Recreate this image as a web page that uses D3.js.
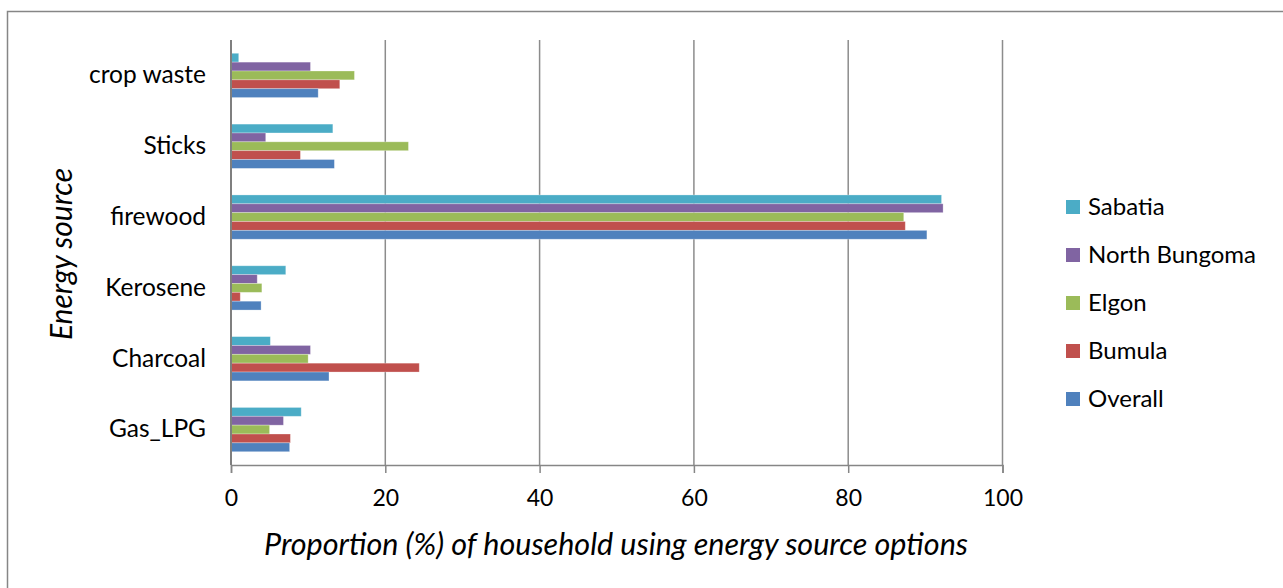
<!DOCTYPE html>
<html>
<head>
<meta charset="utf-8">
<script src="https://cdn.jsdelivr.net/npm/d3@7"></script>
<style>
  html, body { margin: 0; padding: 0; background: #fff; }
  svg { display: block; font-family: Lato, "Open Sans", sans-serif; }
</style>
</head>
<body>
<svg id="chart" width="1283" height="588"></svg>
<script>
// Energy sources, listed top to bottom
const categories = ["crop waste", "Sticks", "firewood", "Kerosene", "Charcoal", "Gas_LPG"];
// Series, listed in the order bars are stacked within each group (top to bottom)
const seriesNames = ["Sabatia", "North Bungoma", "Elgon", "Bumula", "Overall"];
const seriesColors = ["#4BACC6", "#8064A2", "#9BBB59", "#C0504D", "#4F81BD"];

// Proportion (%) of households per energy source, one array per series
const sabatia      = [1.0, 13.2, 92.1, 7.1, 5.1, 9.1];
const northBungoma = [10.3, 4.5, 92.3, 3.4, 10.3, 6.8];
const elgon        = [16.0, 23.0, 87.2, 4.0, 10.0, 5.0];
const bumula       = [14.1, 9.0, 87.4, 1.2, 24.4, 7.7];
const overall      = [11.3, 13.4, 90.2, 3.9, 12.7, 7.6];
const seriesValues = [sabatia, northBungoma, elgon, bumula, overall];

const xTicks = [0, 20, 40, 60, 80, 100];

const svg = d3.select("#chart");

// Outer chart frame
svg.append("rect")
  .attr("x", 7.5).attr("y", 11.5)
  .attr("width", 1280).attr("height", 600)
  .attr("fill", "none").attr("stroke", "#868686").attr("stroke-width", 1.5);

const plot = { left: 231, right: 1002.5, top: 40, bottom: 465 };

const x = d3.scaleLinear().domain([0, 100]).range([plot.left, plot.right]);
const y = d3.scaleBand().domain(categories)
  .range([plot.top, plot.bottom])
  .paddingInner(0.375).paddingOuter(0.1875);
const ySub = d3.scaleBand().domain(seriesNames).range([0, y.bandwidth()]).padding(0);

// Vertical gridlines
svg.append("g").selectAll("line")
  .data(xTicks.filter(d => d > 0))
  .join("line")
  .attr("x1", d => x(d)).attr("x2", d => x(d))
  .attr("y1", plot.top).attr("y2", plot.bottom)
  .attr("stroke", "#8c8c8c").attr("stroke-width", 1.5);

// Bars
const rows = [];
categories.forEach((c, i) => {
  seriesNames.forEach((s, j) => {
    rows.push({ cat: c, series: s, value: seriesValues[j][i], color: seriesColors[j] });
  });
});

svg.append("g").selectAll("rect")
  .data(rows)
  .join("rect")
  .attr("x", x(0))
  .attr("y", d => y(d.cat) + ySub(d.series))
  .attr("width", d => x(d.value) - x(0))
  .attr("height", ySub.bandwidth())
  .attr("fill", d => d.color)
  .attr("stroke", "#ffffff").attr("stroke-opacity", 0.35).attr("stroke-width", 0.8);

// X axis
const xAxis = svg.append("g")
  .attr("transform", `translate(0,${plot.bottom})`)
  .call(d3.axisBottom(x).tickValues(xTicks).tickSize(8).tickPadding(17).tickFormat(d3.format("d")));
xAxis.select(".domain").attr("stroke", "#868686").attr("stroke-width", 1.5);
xAxis.selectAll(".tick line").attr("stroke", "#868686").attr("stroke-width", 1.5);
xAxis.selectAll(".tick text")
  .attr("fill", "#000").attr("font-size", 23).attr("font-family", "Lato, sans-serif");

// Y axis
const yAxis = svg.append("g")
  .attr("transform", `translate(${plot.left},0)`)
  .call(d3.axisLeft(y).tickSize(0).tickPadding(25));
yAxis.select(".domain").attr("stroke", "#7f7f7f").attr("stroke-width", 2)
  .attr("d", `M0,${plot.top}V${plot.bottom}`);
yAxis.selectAll(".tick text")
  .attr("fill", "#000").attr("font-size", 24.5).attr("font-family", "Lato, sans-serif");

// Axis titles
svg.append("text")
  .attr("x", 616).attr("y", 555)
  .attr("text-anchor", "middle")
  .attr("font-size", 30.5).attr("font-style", "italic")
  .text("Proportion (%) of household using energy source options");

svg.append("text")
  .attr("transform", "translate(72,254) rotate(-90)")
  .attr("text-anchor", "middle")
  .attr("font-size", 30).attr("font-style", "italic")
  .text("Energy source");

// Legend
const legend = svg.append("g").attr("transform", "translate(1066,0)");
const legendY = d3.scalePoint().domain(seriesNames).range([207, 399]);
const items = legend.selectAll("g")
  .data(seriesNames.map((s, i) => ({ name: s, color: seriesColors[i] })))
  .join("g")
  .attr("transform", d => `translate(0,${legendY(d.name)})`);
items.append("rect")
  .attr("x", 0).attr("y", -7).attr("width", 14).attr("height", 14)
  .attr("fill", d => d.color);
items.append("text")
  .attr("x", 22).attr("y", 0).attr("dy", "0.35em")
  .attr("font-size", 24)
  .text(d => d.name);
</script>
</body>
</html>
